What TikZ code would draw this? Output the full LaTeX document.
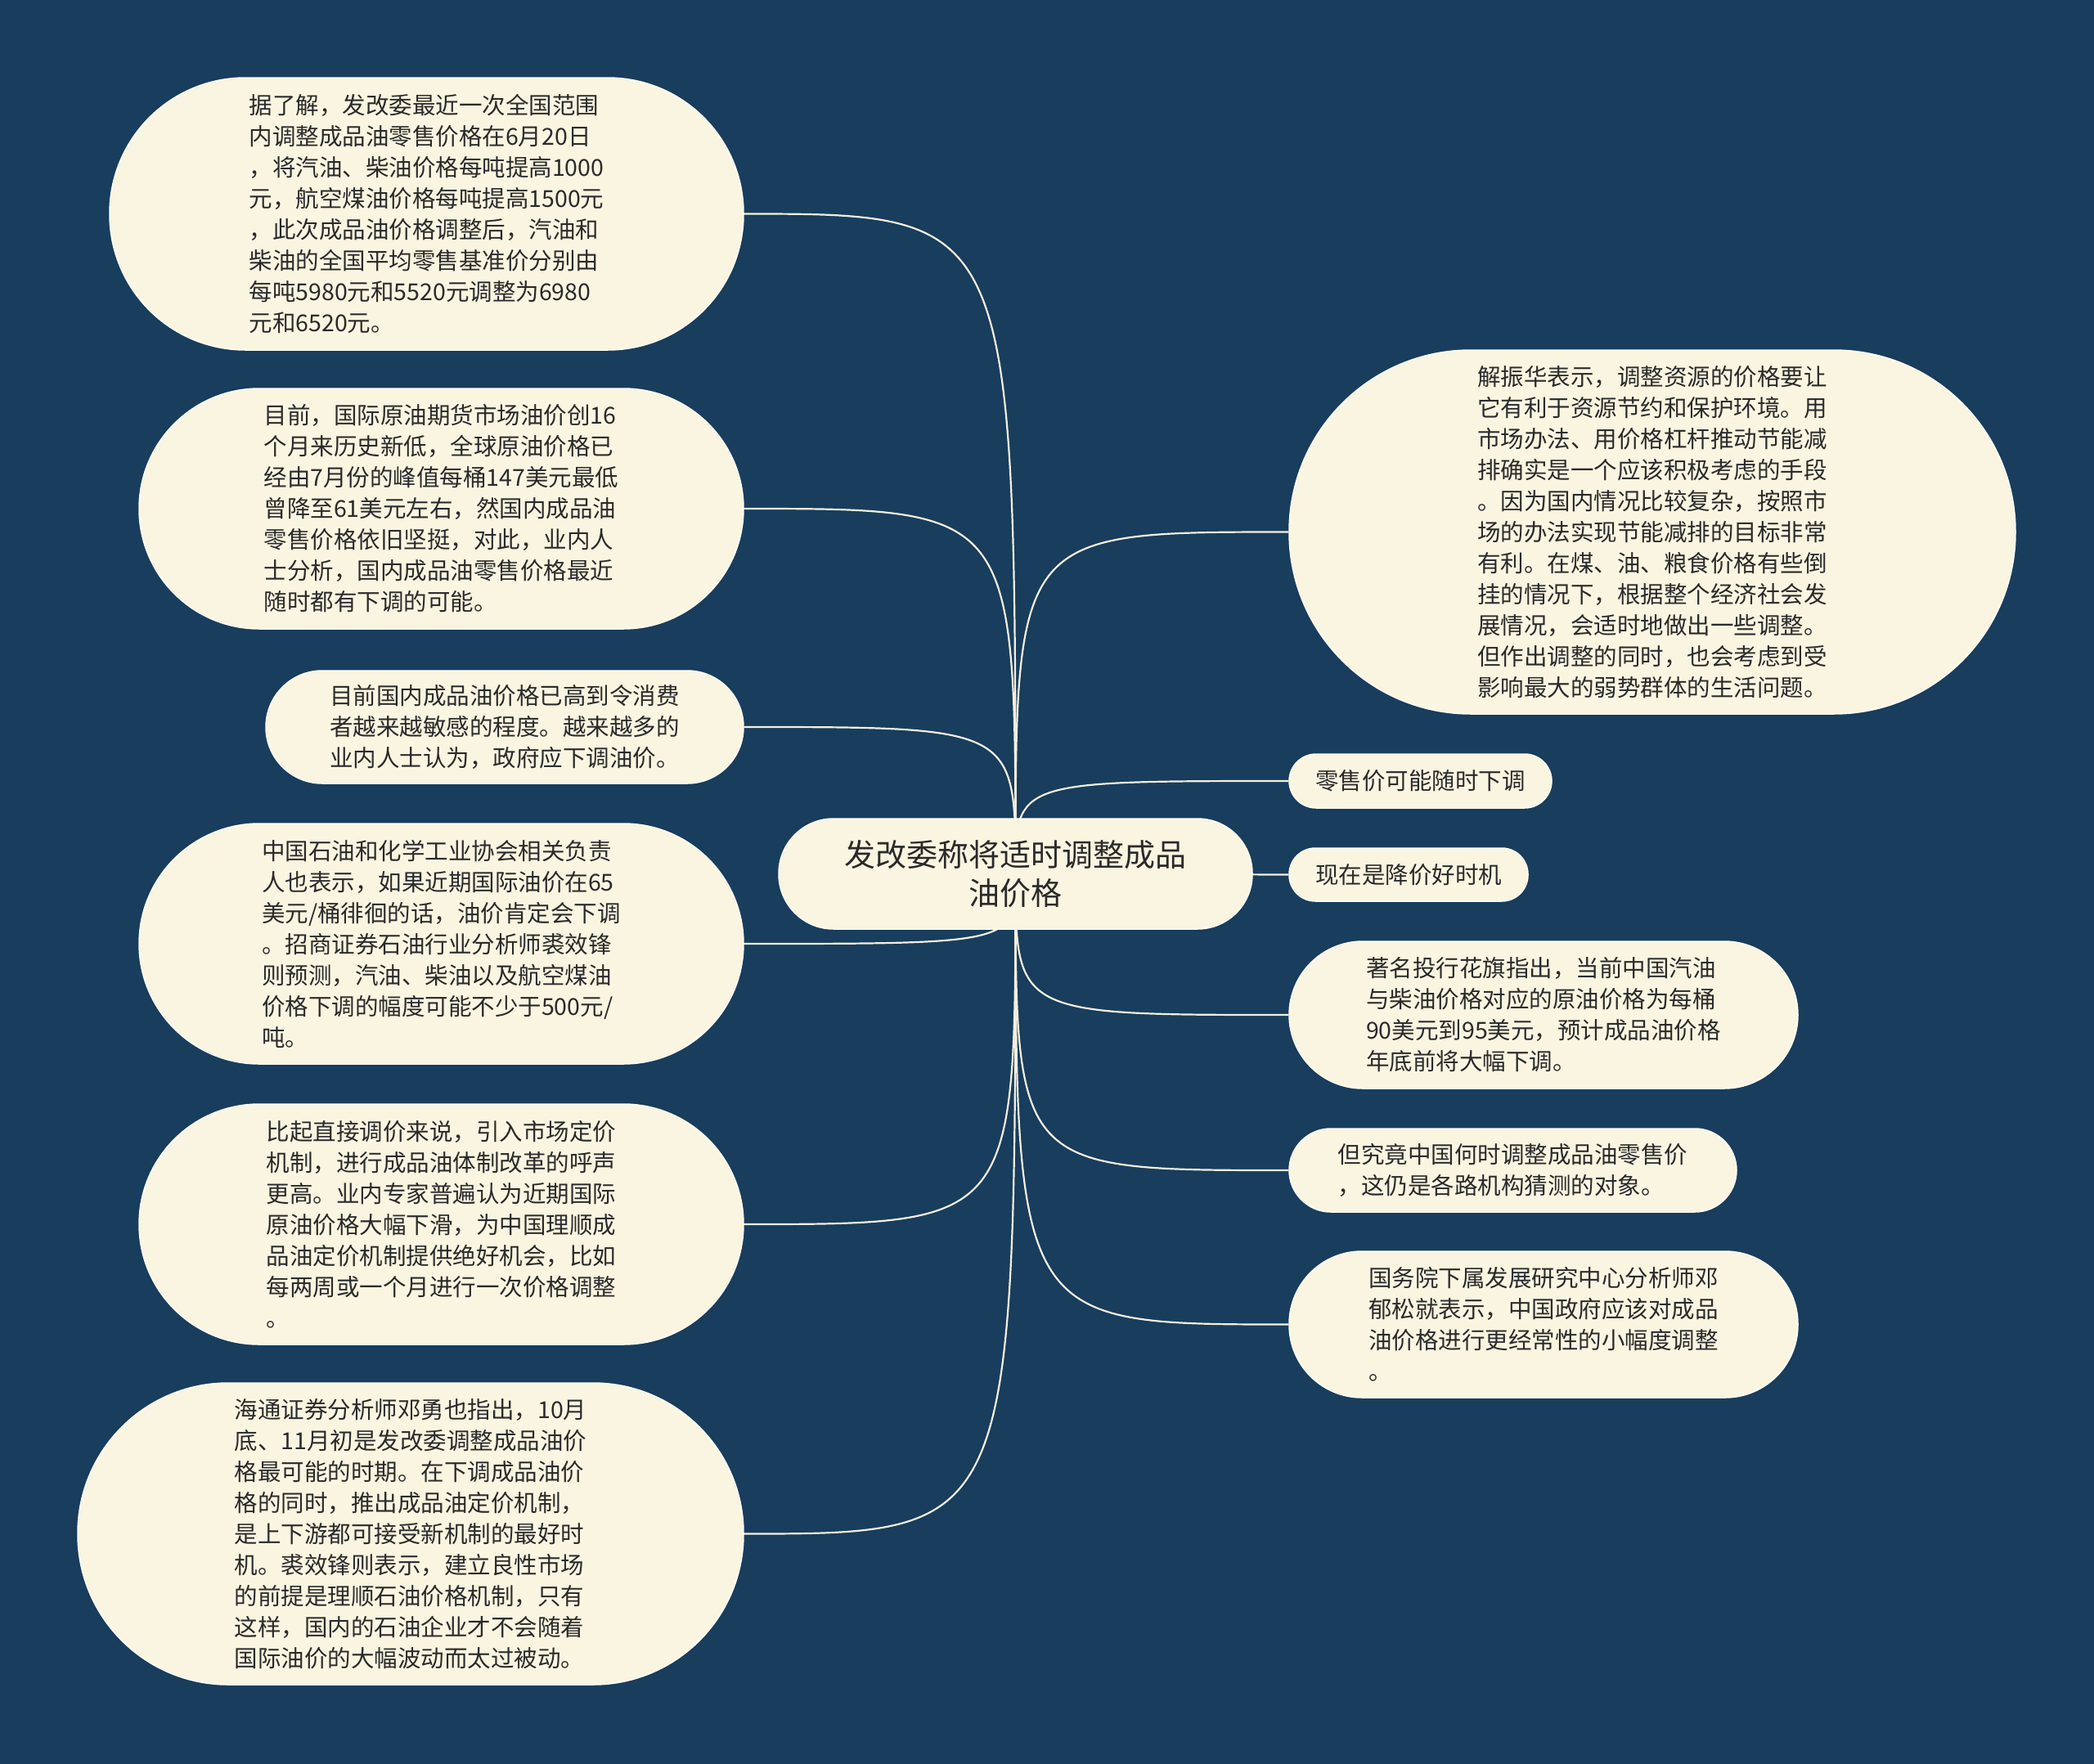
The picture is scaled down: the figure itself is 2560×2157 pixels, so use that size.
\documentclass[tikz,border=0pt]{standalone}
\usepackage{fontspec}
\setmainfont{Noto Sans CJK SC}
\definecolor{bgc}{HTML}{183D5D}
\definecolor{cream}{HTML}{FAF5E1}
\definecolor{edge}{HTML}{FFFDF3}
\definecolor{ink}{HTML}{2A2A2A}
\definecolor{wire}{HTML}{F4EFDF}
\pgfdeclarelayer{back}
\pgfsetlayers{back,main}
\begin{document}
\begin{tikzpicture}[x=1pt,y=-1pt,
  bub/.style={rectangle, fill=cream, draw=edge, line width=1.5pt, text=ink,
    inner xsep=0pt, inner ysep=0pt, align=left,
    font=\fontsize{28.5pt}{38pt}\selectfont},
  hub/.style={bub, align=center, font=\fontsize{38pt}{47pt}\selectfont},
  conn/.style={draw=wire, line width=2.2pt}]
\useasboundingbox (0,0) rectangle (2560,2157);

% centre
\node[hub, minimum width=579pt, minimum height=135pt, rounded corners=67pt] (c) at (1241.5,1068.5)
 {发改委称将适时调整成品\\油价格};

% left side
\node[bub, minimum width=775pt, minimum height=333pt, rounded corners=166pt] (n1) at (521.5,261.5)
 {据了解，发改委最近一次全国范围\\内调整成品油零售价格在6月20日\\，将汽油、柴油价格每吨提高1000\\元，航空煤油价格每吨提高1500元\\，此次成品油价格调整后，汽油和\\柴油的全国平均零售基准价分别由\\每吨5980元和5520元调整为6980\\元和6520元。};
\node[bub, minimum width=739pt, minimum height=294pt, rounded corners=147pt] (n2) at (539.5,622)
 {目前，国际原油期货市场油价创16\\个月来历史新低，全球原油价格已\\经由7月份的峰值每桶147美元最低\\曾降至61美元左右，然国内成品油\\零售价格依旧坚挺，对此，业内人\\士分析，国内成品油零售价格最近\\随时都有下调的可能。};
\node[bub, minimum width=584pt, minimum height=138pt, rounded corners=69pt] (n3) at (617,889)
 {目前国内成品油价格已高到令消费\\者越来越敏感的程度。越来越多的\\业内人士认为，政府应下调油价。};
\node[bub, minimum width=739pt, minimum height=294pt, rounded corners=147pt] (n4) at (539.5,1154)
 {中国石油和化学工业协会相关负责\\人也表示，如果近期国际油价在65\\美元/桶徘徊的话，油价肯定会下调\\。招商证券石油行业分析师裘效锋\\则预测，汽油、柴油以及航空煤油\\价格下调的幅度可能不少于500元/\\吨。};
\node[bub, minimum width=739pt, minimum height=294pt, rounded corners=147pt] (n5) at (539.5,1497)
 {比起直接调价来说，引入市场定价\\机制，进行成品油体制改革的呼声\\更高。业内专家普遍认为近期国际\\原油价格大幅下滑，为中国理顺成\\品油定价机制提供绝好机会，比如\\每两周或一个月进行一次价格调整\\。};
\node[bub, minimum width=814pt, minimum height=369pt, rounded corners=184pt] (n6) at (502,1875.5)
 {海通证券分析师邓勇也指出，10月\\底、11月初是发改委调整成品油价\\格最可能的时期。在下调成品油价\\格的同时，推出成品油定价机制，\\是上下游都可接受新机制的最好时\\机。裘效锋则表示，建立良性市场\\的前提是理顺石油价格机制，只有\\这样，国内的石油企业才不会随着\\国际油价的大幅波动而太过被动。};

% right side
\node[bub, minimum width=888pt, minimum height=445pt, rounded corners=222pt] (r1) at (2020,650.5)
 {解振华表示，调整资源的价格要让\\它有利于资源节约和保护环境。用\\市场办法、用价格杠杆推动节能减\\排确实是一个应该积极考虑的手段\\。因为国内情况比较复杂，按照市\\场的办法实现节能减排的目标非常\\有利。在煤、油、粮食价格有些倒\\挂的情况下，根据整个经济社会发\\展情况，会适时地做出一些调整。\\但作出调整的同时，也会考虑到受\\影响最大的弱势群体的生活问题。};
\node[bub, minimum width=321pt, minimum height=66pt, rounded corners=33pt] (r2) at (1736.5,955)
 {零售价可能随时下调};
\node[bub, minimum width=292pt, minimum height=65pt, rounded corners=32pt] (r3) at (1722,1069.5)
 {现在是降价好时机};
\node[bub, minimum width=622pt, minimum height=180pt, rounded corners=90pt] (r4) at (1887,1241)
 {著名投行花旗指出，当前中国汽油\\与柴油价格对应的原油价格为每桶\\90美元到95美元，预计成品油价格\\年底前将大幅下调。};
\node[bub, minimum width=547pt, minimum height=102pt, rounded corners=51pt] (r5) at (1849.5,1431)
 {但究竟中国何时调整成品油零售价\\，这仍是各路机构猜测的对象。};
\node[bub, minimum width=622pt, minimum height=179pt, rounded corners=89pt] (r6) at (1887,1619.5)
 {国务院下属发展研究中心分析师邓\\郁松就表示，中国政府应该对成品\\油价格进行更经常性的小幅度调整\\。};

\begin{pgfonlayer}{back}
  \fill[bgc] (0,0) rectangle (2560,2157);
  \foreach \t in {n1,n2,n3,n4,n5,n6}
    \draw[conn] (c.center) .. controls (c.center |- \t.east) .. (\t.east);
  \foreach \t in {r1,r2,r4,r5,r6}
    \draw[conn] (c.center) .. controls (c.center |- \t.west) .. (\t.west);
  \draw[conn] (c.center) -- (r3.west);
\end{pgfonlayer}
\end{tikzpicture}
\end{document}
